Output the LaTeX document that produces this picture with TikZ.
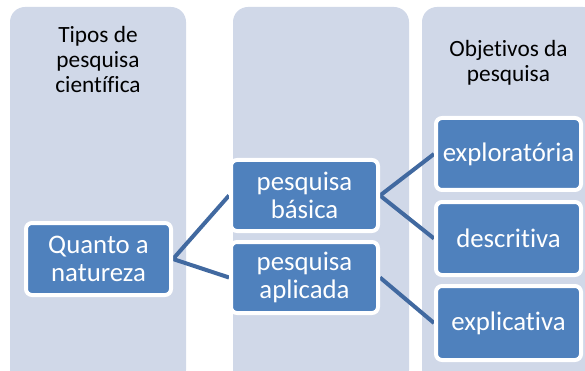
\documentclass[tikz,border=0pt]{standalone}
\usepackage{fontspec}
\setmainfont[Ligatures=NoCommon]{Carlito}
\usetikzlibrary{backgrounds}
\definecolor{colbg}{HTML}{D0D8E8}
\definecolor{boxblue}{HTML}{4F81BD}
\definecolor{linkblue}{HTML}{4169A0}
\begin{document}
\begin{tikzpicture}[x=1pt,y=-1pt,
  column/.style={fill=colbg, rounded corners=15pt},
  itembox/.style={draw=white, line width=4pt, fill=boxblue, rounded corners=6pt,
    minimum width=145pt, minimum height=72pt, inner sep=0pt, text=white,
    align=center, font=\fontsize{26.8}{28.5}\selectfont},
  header/.style={align=center, font=\fontsize{23.3}{25}\selectfont, text=black, anchor=base},
  link/.style={draw=linkblue, line width=4pt}]
\useasboundingbox (0,0) rectangle (585,371);
\clip (0,0) rectangle (585,371);
\node[header] (h1) at (98,93) {Tipos de\\pesquisa\\científica};
\node[header] (h3) at (508.5,81.5) {Objetivos da\\pesquisa};
\node[itembox, minimum width=145pt, minimum height=72pt] (nq) at (98.5,259) {Quanto a\\natureza};
\node[itembox, minimum width=147pt, minimum height=71pt] (nb) at (304.5,195.5) {pesquisa\\básica};
\node[itembox, minimum width=147pt, minimum height=71pt] (na) at (304.5,277.5) {pesquisa\\aplicada};
\node[itembox] (ne1) at (508.5,154) {exploratória};
\node[itembox, minimum height=73pt] (ne2) at (508.5,238.5) {descritiva};
\node[itembox, minimum height=74pt] (ne3) at (508.5,323) {explicativa};
\begin{scope}[on background layer]
\fill[column] (10,7) rectangle (186,385);
\fill[column] (233,7) rectangle (409,385);
\fill[column] (422,7) rectangle (598,385);
\draw[link] (nq.east) -- (nb.west);
\draw[link] (nq.east) -- (na.west);
\draw[link] (nb.east) -- (ne1.west);
\draw[link] (nb.east) -- (ne2.west);
\draw[link] (na.east) -- (ne3.west);
\end{scope}
\end{tikzpicture}
\end{document}
